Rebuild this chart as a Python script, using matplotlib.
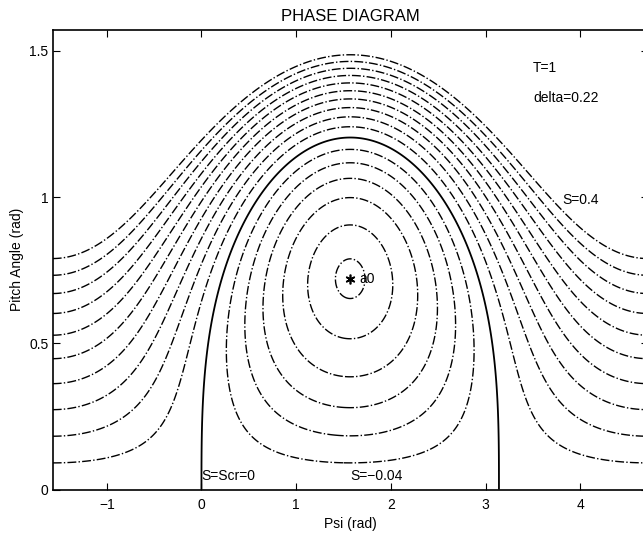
import numpy as np
import matplotlib.pyplot as plt

plt.rcParams['font.family'] = ['Liberation Sans', 'DejaVu Sans']
plt.rcParams['font.size'] = 10

# model parameters shown on the chart
T = 1.0
delta = 0.22

# contour levels of S (outer rings, separatrix, inner rings)
outer_levels = [0.04, 0.08, 0.12, 0.16, 0.20, 0.24, 0.28, 0.32, 0.36, 0.40]
sep_level = [0.0]
inner_levels = [-0.225, -0.20, -0.16, -0.12, -0.08, -0.04]

# centre point a0
psi0 = np.pi / 2
theta0 = 0.72

psi = np.linspace(-np.pi / 2, 3 * np.pi / 2, 700)
theta = np.linspace(1e-4, np.pi / 2, 500)
P, TH = np.meshgrid(psi, theta)
S = T * (1 - np.cos(TH)) ** 2 - 2 * delta * np.sin(TH) * np.sin(P)

fig = plt.figure(figsize=(6.43, 5.33), dpi=100)
ax = fig.add_axes([0.082, 0.0816, 0.9253, 0.862])

ax.contour(P, TH, S, levels=inner_levels + outer_levels, colors='k',
           linestyles='-.', linewidths=1.0)
ax.contour(P, TH, S, levels=sep_level, colors='k', linestyles='-', linewidths=1.3)

ax.plot(psi0, theta0, marker=(6, 2, 0), color='k', markersize=7,
        markeredgewidth=1.2, linestyle='none')
ax.text(1.67, theta0, 'a0', va='center', ha='left')

ax.text(0.0, 0.045, 'S=Scr=0', va='center', ha='left')
ax.text(1.57, 0.045, 'S=\u22120.04', va='center', ha='left')
ax.text(3.815, 0.99, 'S=0.4', va='center', ha='left')
ax.text(3.50, 1.44, 'T=1', va='center', ha='left')
ax.text(3.50, 1.34, 'delta=0.22', va='center', ha='left')

ax.set_xlim(-np.pi / 2, 3 * np.pi / 2)
ax.set_ylim(0, np.pi / 2)
ax.set_xticks([-1, 0, 1, 2, 3, 4])
ax.set_yticks([0, 0.5, 1, 1.5])
ax.set_yticklabels(['0', '0.5', '1', '1.5'])
ax.tick_params(direction='in', top=True, right=True, length=5, pad=3)
ax.tick_params(axis='x', pad=6)
for s in ax.spines.values():
    s.set_linewidth(1.2)

ax.set_title('PHASE DIAGRAM', pad=6.5)
ax.set_xlabel('Psi (rad)', labelpad=4)
ax.set_ylabel('Pitch Angle (rad)', labelpad=4)

fig.savefig('out.png', dpi=100)
